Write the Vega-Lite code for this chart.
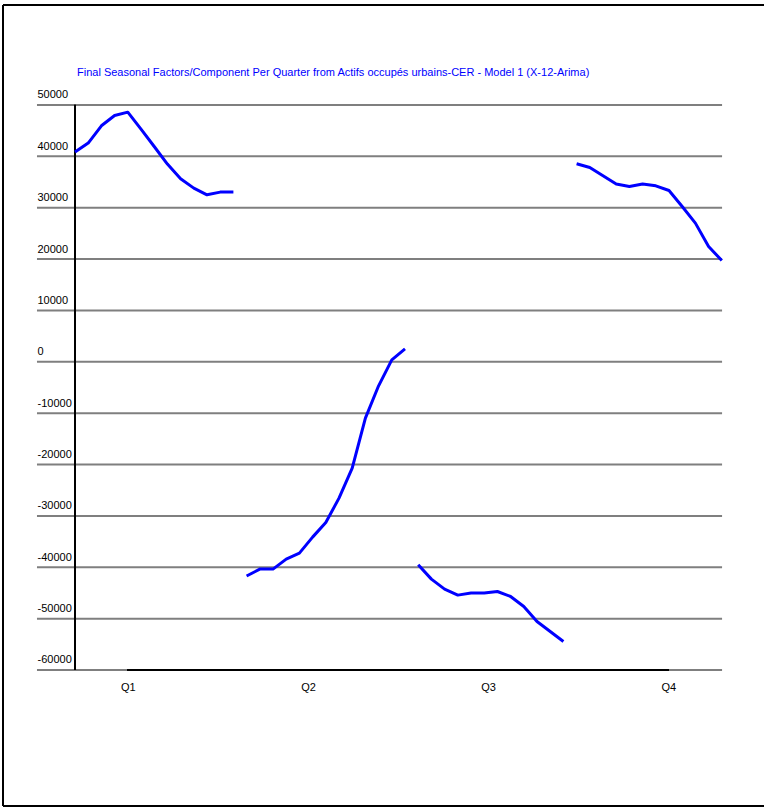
{
  "$schema": "https://vega.github.io/schema/vega-lite/v6.json",
  "autosize": {"type": "none"},
  "padding": {"left": 3, "top": 5, "right": 0, "bottom": 4},
  "width": 761,
  "height": 801,
  "background": "white",
  "config": {
    "view": {"stroke": null, "fill": "white"},
    "font": "Liberation Sans"
  },
  "title": {
    "text": "Final Seasonal Factors/Component Per Quarter from Actifs occupés urbains-CER  - Model 1 (X-12-Arima)",
    "anchor": "start",
    "frame": "group",
    "dx": 74,
    "offset": -83,
    "baseline": "alphabetic",
    "font": "Liberation Sans",
    "fontSize": 11,
    "fontWeight": "normal",
    "color": "#0000FF"
  },
  "datasets": {
    "series": [
      {"t": 0, "quarter": "Q1", "value": 40830},
      {"t": 1, "quarter": "Q1", "value": 42580},
      {"t": 2, "quarter": "Q1", "value": 45950},
      {"t": 3, "quarter": "Q1", "value": 47950},
      {"t": 4, "quarter": "Q1", "value": 48610},
      {"t": 5, "quarter": "Q1", "value": 45300},
      {"t": 6, "quarter": "Q1", "value": 41920},
      {"t": 7, "quarter": "Q1", "value": 38490},
      {"t": 8, "quarter": "Q1", "value": 35630},
      {"t": 9, "quarter": "Q1", "value": 33820},
      {"t": 10, "quarter": "Q1", "value": 32510},
      {"t": 11, "quarter": "Q1", "value": 33040},
      {"t": 12, "quarter": "Q1", "value": 33040},
      {"t": 13, "quarter": "Q2", "value": -41700},
      {"t": 14, "quarter": "Q2", "value": -40360},
      {"t": 15, "quarter": "Q2", "value": -40360},
      {"t": 16, "quarter": "Q2", "value": -38410},
      {"t": 17, "quarter": "Q2", "value": -37240},
      {"t": 18, "quarter": "Q2", "value": -34130},
      {"t": 19, "quarter": "Q2", "value": -31290},
      {"t": 20, "quarter": "Q2", "value": -26540},
      {"t": 21, "quarter": "Q2", "value": -20700},
      {"t": 22, "quarter": "Q2", "value": -10960},
      {"t": 23, "quarter": "Q2", "value": -4670},
      {"t": 24, "quarter": "Q2", "value": 390},
      {"t": 25, "quarter": "Q2", "value": 2530},
      {"t": 26, "quarter": "Q3", "value": -39520},
      {"t": 27, "quarter": "Q3", "value": -42310},
      {"t": 28, "quarter": "Q3", "value": -44250},
      {"t": 29, "quarter": "Q3", "value": -45420},
      {"t": 30, "quarter": "Q3", "value": -45030},
      {"t": 31, "quarter": "Q3", "value": -45030},
      {"t": 32, "quarter": "Q3", "value": -44720},
      {"t": 33, "quarter": "Q3", "value": -45690},
      {"t": 34, "quarter": "Q3", "value": -47640},
      {"t": 35, "quarter": "Q3", "value": -50560},
      {"t": 36, "quarter": "Q3", "value": -52510},
      {"t": 37, "quarter": "Q3", "value": -54450},
      {"t": 38, "quarter": "Q4", "value": 38550},
      {"t": 39, "quarter": "Q4", "value": 37830},
      {"t": 40, "quarter": "Q4", "value": 36210},
      {"t": 41, "quarter": "Q4", "value": 34600},
      {"t": 42, "quarter": "Q4", "value": 34130},
      {"t": 43, "quarter": "Q4", "value": 34600},
      {"t": 44, "quarter": "Q4", "value": 34270},
      {"t": 45, "quarter": "Q4", "value": 33350},
      {"t": 46, "quarter": "Q4", "value": 30230},
      {"t": 47, "quarter": "Q4", "value": 27000},
      {"t": 48, "quarter": "Q4", "value": 22450},
      {"t": 49, "quarter": "Q4", "value": 19720}
    ],
    "grid": [
      {"g": 50000}, {"g": 40000}, {"g": 30000}, {"g": 20000}, {"g": 10000}, {"g": 0},
      {"g": -10000}, {"g": -20000}, {"g": -30000}, {"g": -40000}, {"g": -50000}, {"g": -60000}
    ]
  },
  "layer": [
    {
      "data": {"name": "series"},
      "mark": {"type": "line", "color": "#0000FF", "strokeWidth": 3, "strokeJoin": "round", "opacity": 0},
      "encoding": {
        "x": {
          "field": "t",
          "type": "quantitative",
          "title": null,
          "scale": {"domain": [-5.4545, 52.197], "nice": false, "zero": false},
          "axis": {
            "orient": "bottom",
            "offset": -136,
            "title": null,
            "values": [4, 17.65, 31.3, 44.95],
            "labelExpr": "datum.value < 10 ? 'Q1' : datum.value < 25 ? 'Q2' : datum.value < 40 ? 'Q3' : 'Q4'",
            "grid": false,
            "domain": false,
            "ticks": false,
            "tickSize": 0,
            "labelPadding": 11,
            "labelBaseline": "top",
            "labelAlign": "center",
            "labelFlush": false,
            "labelOverlap": false,
            "labelBound": false,
            "labelFont": "Liberation Sans",
            "labelFontSize": 11,
            "labelColor": "black"
          }
        },
        "y": {
          "field": "value",
          "type": "quantitative",
          "title": null,
          "scale": {"domain": [-86478, 69469], "nice": false, "zero": false},
          "axis": {
            "orient": "left",
            "offset": -34,
            "title": null,
            "values": [50000, 40000, 30000, 20000, 10000, 0, -10000, -20000, -30000, -40000, -50000, -60000],
            "labelExpr": "'' + datum.value",
            "grid": false,
            "domain": false,
            "ticks": false,
            "tickSize": 0,
            "labelPadding": 0,
            "labelAlign": "left",
            "labelBaseline": "bottom",
            "labelOffset": -5,
            "labelFlush": false,
            "labelOverlap": false,
            "labelBound": false,
            "labelFont": "Liberation Sans",
            "labelFontSize": 11,
            "labelColor": "black"
          }
        },
        "detail": {"field": "quarter", "type": "nominal"}
      }
    },
    {
      "data": {"name": "series"},
      "mark": {"type": "rule", "color": "black", "strokeWidth": 2},
      "encoding": {
        "x": {"datum": -5.4545, "type": "quantitative", "title": null},
        "x2": {"datum": 52.197},
        "y": {"datum": 69469, "type": "quantitative", "title": null}
      }
    },
    {
      "data": {"name": "series"},
      "mark": {"type": "rule", "color": "black", "strokeWidth": 2},
      "encoding": {
        "x": {"datum": -5.4545, "type": "quantitative", "title": null},
        "x2": {"datum": 52.197},
        "y": {"datum": -86478, "type": "quantitative", "title": null}
      }
    },
    {
      "data": {"name": "series"},
      "mark": {"type": "rule", "color": "black", "strokeWidth": 2},
      "encoding": {
        "x": {"datum": -5.4545, "type": "quantitative", "title": null},
        "y": {"datum": -86478, "type": "quantitative", "title": null},
        "y2": {"datum": 69469}
      }
    },
    {
      "data": {"name": "grid"},
      "mark": {"type": "rule", "color": "#7f7f7f", "strokeWidth": 2},
      "encoding": {
        "y": {"field": "g", "type": "quantitative", "title": null},
        "x": {"datum": -2.88, "type": "quantitative", "title": null},
        "x2": {"datum": 49.02}
      }
    },
    {
      "data": {"name": "series"},
      "mark": {"type": "rule", "color": "black", "strokeWidth": 2},
      "encoding": {
        "x": {"datum": 4, "type": "quantitative", "title": null},
        "x2": {"datum": 44.95},
        "y": {"datum": -60000, "type": "quantitative", "title": null}
      }
    },
    {
      "data": {"name": "series"},
      "mark": {"type": "rule", "color": "black", "strokeWidth": 1},
      "encoding": {
        "x": {"datum": 0, "type": "quantitative", "title": null},
        "y": {"datum": -60000, "type": "quantitative", "title": null},
        "y2": {"datum": 50000}
      }
    },
    {
      "data": {"name": "series"},
      "mark": {"type": "line", "color": "#0000FF", "strokeWidth": 3, "strokeJoin": "round"},
      "encoding": {
        "x": {"field": "t", "type": "quantitative", "title": null},
        "y": {"field": "value", "type": "quantitative", "title": null},
        "detail": {"field": "quarter", "type": "nominal"}
      }
    }
  ]
}
